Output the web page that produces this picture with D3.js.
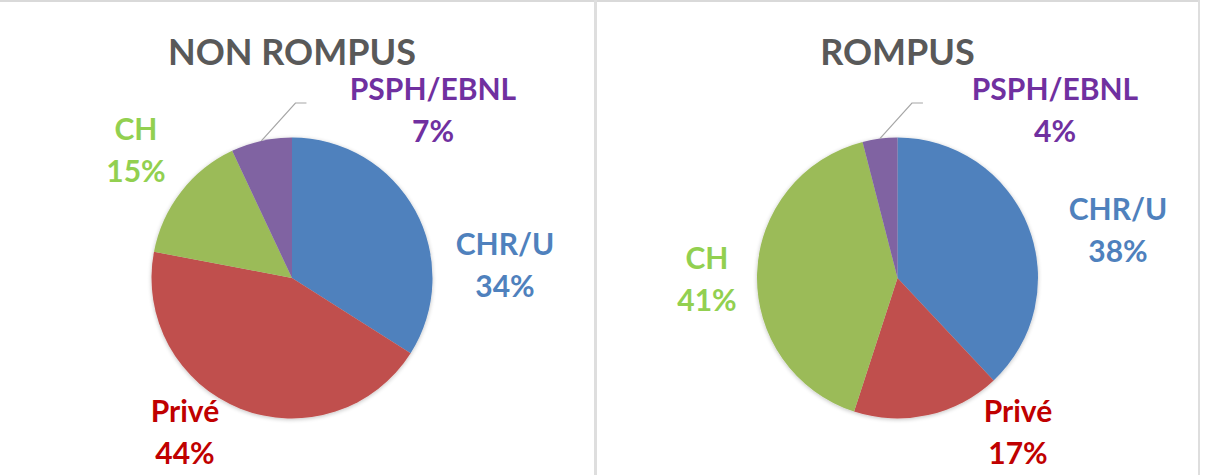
<!DOCTYPE html>
<meta charset="utf-8">
<title>Rompus / non rompus</title>
<style>
body {
  margin: 0;
  background: #fff;
  font-family: Lato, "Open Sans", sans-serif;
}
.title {
  font-weight: bold;
  fill: #595959;
  text-anchor: middle;
}
.label {
  font-weight: bold;
  text-anchor: middle;
}
.leader {
  fill: none;
  stroke: #a6a6a6;
  stroke-width: 1.2px;
}
</style>
<body>
<div id="vis"></div>

<script src="https://cdn.jsdelivr.net/npm/d3@7"></script>
<script>

// categories, in drawing order (clockwise from 12 o'clock)
var categories = ["CHR/U", "Privé", "CH", "PSPH/EBNL"];

// percentages per chart
var nonRompus = [34, 44, 15, 7];
var rompus = [38, 17, 41, 4];

var titles = ["NON ROMPUS", "ROMPUS"];

var sliceColors = ["#4f81bd", "#c0504d", "#9bbb59", "#8064a2"],
    labelColors = ["#4f81bd", "#c00000", "#92d050", "#7030a0"];

var width = 1207,
    height = 475,
    radius = 140.5;

// label offsets from pie centre (Excel "best fit" placement), first-line baseline
var labelPos = [
  [[213, -23], [-107, 144], [-156, -138], [141, -178]],
  [[220.5, -58], [120.5, 144], [-190.5, -9], [157.5, -178]]
];

var panels = [
  {title: titles[0], values: nonRompus, cx: 292, cy: 278, labels: labelPos[0]},
  {title: titles[1], values: rompus, cx: 897.5, cy: 278, labels: labelPos[1]}
];

var color = d3.scaleOrdinal().domain(categories).range(sliceColors),
    textColor = d3.scaleOrdinal().domain(categories).range(labelColors);

var pie = d3.pie()
    .sort(null)
    .value(function(d) { return d.value; });

var arc = d3.arc()
    .innerRadius(0)
    .outerRadius(radius);

var svg = d3.select("#vis").append("svg")
    .attr("width", width)
    .attr("height", height);

// panel frames
svg.append("line").attr("x1", 0).attr("x2", 1200).attr("y1", 1).attr("y2", 1)
    .attr("stroke", "#d9d9d9").attr("stroke-width", 2);
[[595.5, 3], [1199, 2]].forEach(function(l) {
  svg.append("line").attr("x1", l[0]).attr("x2", l[0]).attr("y1", 0).attr("y2", height)
      .attr("stroke", "#dedede").attr("stroke-width", l[1]);
});

var defs = svg.append("defs");
var shadow = defs.append("filter").attr("id", "soft")
    .attr("x", "-10%").attr("y", "-10%").attr("width", "120%").attr("height", "120%");
shadow.append("feGaussianBlur").attr("in", "SourceAlpha").attr("stdDeviation", 2);
shadow.append("feOffset").attr("dx", 0).attr("dy", 1).attr("result", "b");
shadow.append("feComponentTransfer").append("feFuncA").attr("type", "linear").attr("slope", 0.25);
var merge = shadow.append("feMerge");
merge.append("feMergeNode");
merge.append("feMergeNode").attr("in", "SourceGraphic");

panels.forEach(function(p) {
  var data = categories.map(function(c, i) { return {name: c, value: p.values[i]}; });
  var arcs = pie(data);

  var g = svg.append("g")
      .attr("transform", "translate(" + p.cx + "," + p.cy + ")");

  svg.append("text")
      .attr("class", "title")
      .attr("x", p.cx)
      .attr("y", 65)
      .style("font-size", "36px")
      .text(p.title);

  g.append("g")
      .attr("filter", "url(#soft)")
    .selectAll("path")
      .data(arcs)
    .enter().append("path")
      .attr("d", arc)
      .attr("fill", function(d) { return color(d.data.name); });

  // labels
  var lab = g.selectAll(".label")
      .data(arcs)
    .enter().append("text")
      .attr("class", "label")
      .style("font-size", "30px")
      .attr("fill", function(d) { return textColor(d.data.name); })
      .attr("transform", function(d, i) { return "translate(" + p.labels[i] + ")"; });

  lab.append("tspan")
      .attr("x", 0)
      .attr("dy", 0)
      .text(function(d) { return d.data.name; });
  lab.append("tspan")
      .attr("x", 0)
      .attr("dy", 42)
      .text(function(d) { return d.value + "%"; });

  // leader line for the smallest slice
  var small = arcs[3],
      mid = (small.startAngle + small.endAngle) / 2,
      sx = Math.sin(mid) * radius,
      sy = -Math.cos(mid) * radius,
      lp = p.labels[3],
      ey = lp[1] + 3,
      ex = sx + (sy - ey) * 0.9;

  g.append("path")
      .attr("class", "leader")
      .attr("d", d3.line()([[sx, sy], [ex, ey], [ex + 11, ey]]));
});

</script>
</body>
